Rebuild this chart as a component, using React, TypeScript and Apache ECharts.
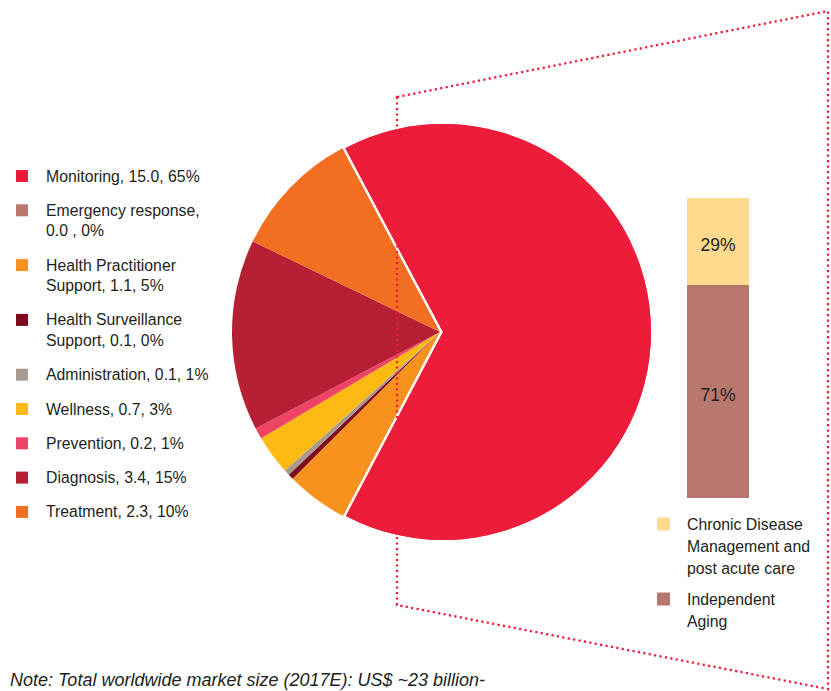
import React, { useEffect, useRef } from "react";
import * as echarts from "echarts";

const categories = [
  "Monitoring",
  "Emergency response",
  "Health Practitioner Support",
  "Health Surveillance Support",
  "Administration",
  "Wellness",
  "Prevention",
  "Diagnosis",
  "Treatment",
];
const values = [15.0, 0.0, 1.1, 0.1, 0.1, 0.7, 0.2, 3.4, 2.3];
const legendLabels = [
  "Monitoring, 15.0, 65%",
  "Emergency response,\n0.0 , 0%",
  "Health Practitioner\nSupport, 1.1, 5%",
  "Health Surveillance\nSupport, 0.1, 0%",
  "Administration, 0.1, 1%",
  "Wellness, 0.7, 3%",
  "Prevention, 0.2, 1%",
  "Diagnosis, 3.4, 15%",
  "Treatment, 2.3, 10%",
];
const sliceColors = [
  "#ed1c3a",
  "#b9776d",
  "#f7921e",
  "#7d0a1e",
  "#a99a8f",
  "#fcba13",
  "#ef4366",
  "#b72034",
  "#f26f22",
];

const barSegments = ["Independent Aging", "Chronic Disease Management and post acute care"];
const barShares = [71, 29];
const barColors = ["#b8776c", "#fed98e"];
const barLegendLabels = ["Chronic Disease\nManagement and\npost acute care", "Independent\nAging"];
const barLegendColors = ["#fed98e", "#b8776c"];

const noteText = "Note: Total worldwide market size (2017E): US$ ~23 billion-";

const TEXT = "#231f20";
const FONT = '"Liberation Sans", Arial, sans-serif';

export default function App() {
  const ref = useRef<HTMLDivElement>(null);

  useEffect(() => {
    if (!ref.current) return;
    const chart = echarts.init(ref.current, undefined, { renderer: "svg" });

    const pieCenter = [440, 332];
    const pieRadius = 208;

    const graphics: any[] = [];

    // dotted zoom outline
    graphics.push({
      type: "polygon",
      z: 3,
      silent: true,
      shape: {
        points: [
          [397, 97],
          [828, 11],
          [828, 689],
          [397, 605],
        ],
      },
      style: {
        fill: "none",
        stroke: "#ed1c3a",
        lineWidth: 2.3,
        lineDash: [2.2, 3.3],
      },
    });

    // left legend
    const lh = 20.5;
    let y = 176;
    legendLabels.forEach((lab, i) => {
      const lines = lab.split("\n").length;
      graphics.push({
        type: "rect",
        z: 5,
        shape: { x: 16, y: y - 6, width: 12, height: 12 },
        style: { fill: sliceColors[i] },
      });
      graphics.push({
        type: "text",
        z: 5,
        x: 46,
        y: y - lh / 2,
        style: {
          text: lab,
          font: `15.8px ${FONT}`,
          fill: TEXT,
          lineHeight: lh,
          verticalAlign: "top",
          textVerticalAlign: "top",
        },
      });
      y += lines * lh + 13.8;
    });

    // bar legend
    let by = 524;
    const blh = 22;
    barLegendLabels.forEach((lab, i) => {
      const lines = lab.split("\n").length;
      graphics.push({
        type: "rect",
        z: 5,
        shape: { x: 657, y: by - 6.5, width: 13, height: 13 },
        style: { fill: barLegendColors[i] },
      });
      graphics.push({
        type: "text",
        z: 5,
        x: 687,
        y: by - blh / 2,
        style: {
          text: lab,
          font: `15.8px ${FONT}`,
          fill: TEXT,
          lineHeight: blh,
          verticalAlign: "top",
          textVerticalAlign: "top",
        },
      });
      by += lines * blh + 9;
    });

    // note
    graphics.push({
      type: "text",
      z: 5,
      x: 10,
      y: 680,
      style: {
        text: noteText,
        font: `italic 18px ${FONT}`,
        fill: TEXT,
        verticalAlign: "middle",
        textVerticalAlign: "middle",
      },
    });

    const pieData = categories.map((name, i) => ({
      name,
      value: values[i],
      selected: i === 0,
      itemStyle: { color: sliceColors[i] },
    }));
    const pieOverlay = categories.map((name, i) => ({
      name,
      value: values[i],
      selected: i === 0,
      itemStyle: { color: i === 0 ? sliceColors[i] : "rgba(0,0,0,0)" },
    }));

    const pieCommon = {
      type: "pie",
      center: pieCenter,
      radius: pieRadius,
      startAngle: 118,
      clockwise: true,
      selectedMode: "single",
      selectedOffset: 3,
      avoidLabelOverlap: false,
      label: { show: false },
      labelLine: { show: false },
      emphasis: { disabled: true },
      silent: true,
    };

    chart.setOption({
      animation: false,
      textStyle: { fontFamily: FONT },
      grid: { left: 687, top: 198, width: 62, height: 300 },
      xAxis: { type: "category", data: [""], show: false },
      yAxis: { type: "value", min: 0, max: 100, show: false },
      series: [
        { ...pieCommon, z: 2, data: pieData },
        { ...pieCommon, z: 4, data: pieOverlay },
        ...barSegments.map((name, i) => ({
          type: "bar",
          name,
          stack: "total",
          barWidth: "100%",
          z: 2,
          data: [barShares[i]],
          itemStyle: { color: barColors[i] },
          label: {
            show: true,
            position: "inside",
            formatter: "{c}%",
            color: TEXT,
            fontSize: 17.5,
            fontFamily: FONT,
            offset: [0, 3],
          },
          emphasis: { disabled: true },
        })),
      ],
      graphic: graphics,
    });

    return () => chart.dispose();
  }, []);

  return (
    <div
      ref={ref}
      style={{ position: "fixed", left: 0, top: 0, width: 831, height: 691, background: "#fff" }}
    />
  );
}
